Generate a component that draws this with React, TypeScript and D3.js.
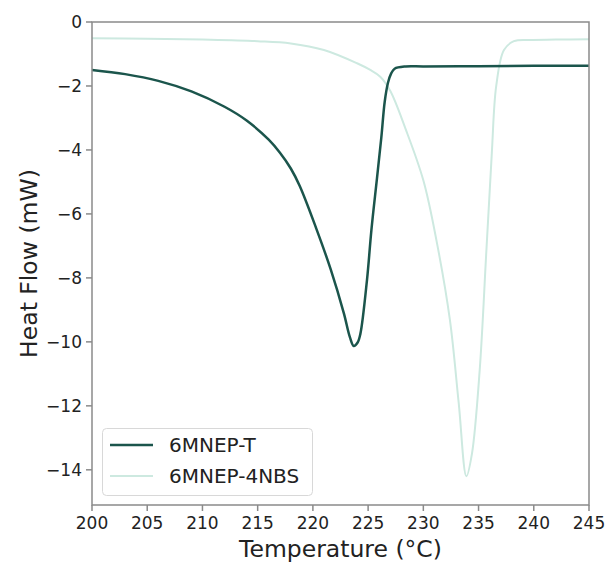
import React from "react";
import * as d3 from "d3";

// 6MNEP-T
const tempT = [200, 203, 206, 209, 212, 214, 216, 217, 218, 218.8, 220.3, 221.6, 222.8, 223.35, 223.7, 224.05, 224.3, 224.9, 225.3, 225.8, 226.2, 226.5, 226.8, 227.1, 227.4, 228.4, 230, 235, 240, 245];
const flowT = [-1.5, -1.63, -1.84, -2.17, -2.65, -3.08, -3.68, -4.08, -4.58, -5.12, -6.45, -7.72, -9.1, -9.85, -10.13, -10.02, -9.75, -8.06, -6.5, -4.9, -3.6, -2.5, -1.9, -1.6, -1.46, -1.39, -1.39, -1.38, -1.37, -1.37];

// 6MNEP-4NBS
const tempN = [200, 205, 210, 215, 218, 221, 224, 225.2, 226.1, 227, 228.4, 230, 231.2, 232.4, 233.2, 233.9, 234.4, 235.1, 235.7, 236.2, 236.6, 237.3, 238.2, 239.6, 242, 245];
const flowN = [-0.51, -0.52, -0.55, -0.6, -0.67, -0.875, -1.29, -1.5, -1.71, -2.15, -3.35, -4.95, -6.85, -9.3, -11.9, -14.2, -13.5, -10.9, -7.2, -4.1, -2.0, -0.875, -0.6, -0.56, -0.55, -0.54];

const xTicks = [200, 205, 210, 215, 220, 225, 230, 235, 240, 245];
const yTicks = [0, -2, -4, -6, -8, -10, -12, -14];

const seriesNames = ["6MNEP-T", "6MNEP-4NBS"];
const seriesColors = ["#1b554c", "#cde9e0"];

const W = 610;
const H = 564;
const FONT = "DejaVu Sans, sans-serif";

export default function App() {
  const left = 92, right = 589, top = 22, bottom = 505;
  const x = d3.scaleLinear().domain([200, 245]).range([left, right]);
  const y = d3.scaleLinear().domain([0, -15.1]).range([top, bottom]);

  const line = d3
    .line<[number, number]>()
    .x((d) => x(d[0]))
    .y((d) => y(d[1]))
    .curve(d3.curveCatmullRom.alpha(0.5));

  const series = [
    tempT.map((t, i) => [t, flowT[i]] as [number, number]),
    tempN.map((t, i) => [t, flowN[i]] as [number, number]),
  ];

  const axisColor = "#8a8a8a";

  return (
    <svg width={W} height={H} style={{ position: "absolute", left: 0, top: 0 }}>
      <rect width={W} height={H} fill="#fff" />
      <g fontFamily={FONT} fill="#222">
        {xTicks.map((t) => (
          <g key={t}>
            <line x1={x(t)} x2={x(t)} y1={bottom} y2={bottom + 6} stroke={axisColor} strokeWidth={1.5} />
            <text x={x(t)} y={bottom + 24} textAnchor="middle" fontSize={17}>
              {t}
            </text>
          </g>
        ))}
        {yTicks.map((t) => (
          <g key={t}>
            <line x1={left - 6} x2={left} y1={y(t)} y2={y(t)} stroke={axisColor} strokeWidth={1.5} />
            <text x={left - 10} y={y(t)} dy="0.35em" textAnchor="end" fontSize={17}>
              {t === 0 ? "0" : "\u2212" + Math.abs(t)}
            </text>
          </g>
        ))}
        <text x={(left + right) / 2} y={557} textAnchor="middle" fontSize={23.5}>
          Temperature (°C)
        </text>
        <text
          transform={`translate(37,${(top + bottom) / 2}) rotate(-90)`}
          textAnchor="middle"
          fontSize={23.5}
        >
          Heat Flow (mW)
        </text>
      </g>

      <g fill="none">
        <path d={line(series[1]) || ""} stroke={seriesColors[1]} strokeWidth={2} />
        <path d={line(series[0]) || ""} stroke={seriesColors[0]} strokeWidth={2.5} />
      </g>

      <rect x={left} y={top} width={right - left} height={bottom - top} fill="none" stroke={axisColor} strokeWidth={1.5} />

      <g fontFamily={FONT}>
        <rect x={102.5} y={428.5} width={210} height={67} rx={4} fill="#fff" fillOpacity={0.8} stroke="#d8d8d8" />
        {seriesNames.map((n, i) => (
          <g key={n} transform={`translate(0,${445 + i * 31})`}>
            <line x1={110} x2={153} y1={0} y2={0} stroke={seriesColors[i]} strokeWidth={i === 0 ? 2.5 : 2} />
            <text x={169} y={0} dy="0.35em" fontSize={20} fill="#222">
              {n}
            </text>
          </g>
        ))}
      </g>
    </svg>
  );
}
